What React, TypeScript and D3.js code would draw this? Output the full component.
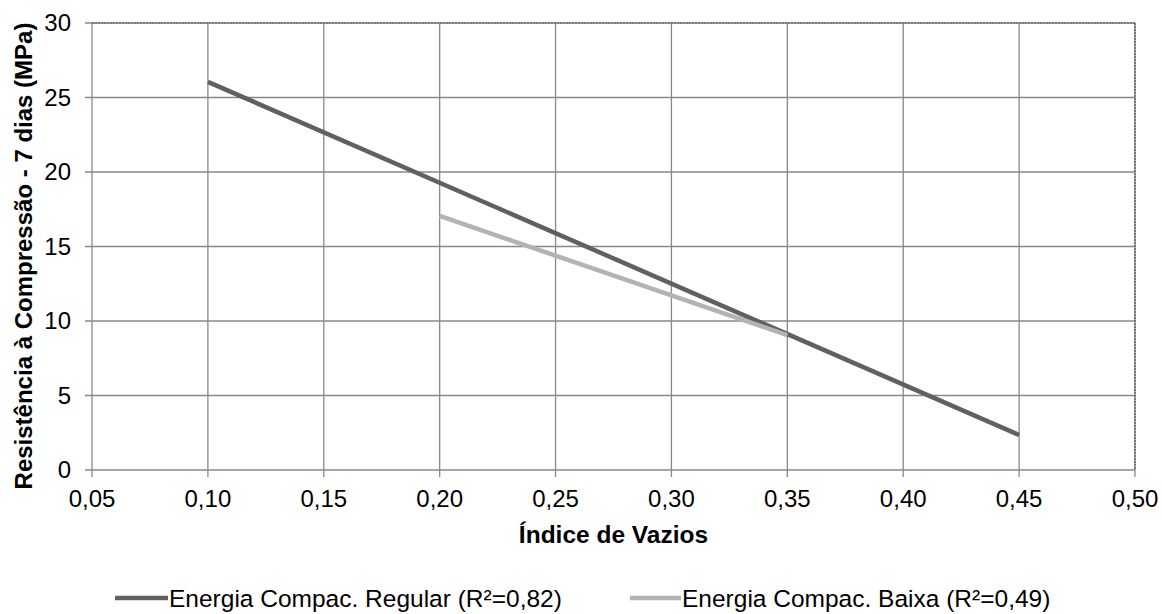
import React from "react";
import * as d3 from "d3";

const xTicks = [0.05, 0.1, 0.15, 0.2, 0.25, 0.3, 0.35, 0.4, 0.45, 0.5];
const yTicks = [0, 5, 10, 15, 20, 25, 30];

const regularX = [0.1, 0.45];
const regularY = [26.05, 2.35];
const baixaX = [0.2, 0.35];
const baixaY = [17.05, 9.06];

const seriesNames = [
  "Energia Compac. Regular (R²=0,82)",
  "Energia Compac. Baixa (R²=0,49)",
];
const seriesColors = ["#606060", "#b3b3b3"];

const W = 1162;
const H = 614;
const left = 92;
const right = 1135;
const top = 23;
const bottom = 470;

export default function App() {
  const x = d3.scaleLinear().domain([0.05, 0.5]).range([left, right]);
  const y = d3.scaleLinear().domain([0, 30]).range([bottom, top]);
  const fmt = (v: number) => v.toFixed(2).replace(".", ",");
  const line = d3
    .line<[number, number]>()
    .x((d) => x(d[0]))
    .y((d) => y(d[1]));
  const series = [
    regularX.map((v, i) => [v, regularY[i]] as [number, number]),
    baixaX.map((v, i) => [v, baixaY[i]] as [number, number]),
  ];
  const font = "'Liberation Sans', Arial, sans-serif";
  const legendItems = [
    { x0: 115, x1: 168 },
    { x0: 630, x1: 681 },
  ];
  const legendY = 598;

  return (
    <svg
      width={W}
      height={H}
      style={{ position: "absolute", left: 0, top: 0, background: "#fff" }}
      fontFamily={font}
    >
      <rect x={0} y={0} width={W} height={H} fill="#fff" />
      {yTicks.map((t) => (
        <line
          key={"gy" + t}
          x1={left - 7}
          x2={right}
          y1={y(t)}
          y2={y(t)}
          stroke="#888"
          strokeWidth={1.3}
        />
      ))}
      {xTicks.map((t) => (
        <line
          key={"gx" + t}
          x1={x(t)}
          x2={x(t)}
          y1={top}
          y2={bottom + 7}
          stroke="#888"
          strokeWidth={1.3}
        />
      ))}
      <line x1={left} x2={right} y1={top} y2={top} stroke="#555" strokeWidth={1.2} strokeDasharray="2 1" />
      <line x1={right} x2={right} y1={top} y2={bottom} stroke="#555" strokeWidth={1.2} strokeDasharray="2 1" />
      {yTicks.map((t) => (
        <text key={"ty" + t} x={left - 21} y={y(t)} dy="0.35em" textAnchor="end" fontSize={24} fill="#000">
          {t}
        </text>
      ))}
      {xTicks.map((t) => (
        <text key={"tx" + t} x={x(t)} y={507} textAnchor="middle" fontSize={24} fill="#000">
          {fmt(t)}
        </text>
      ))}
      {series.map((s, i) => (
        <path key={"s" + i} d={line(s) || ""} fill="none" stroke={seriesColors[i]} strokeWidth={4.5} />
      ))}
      <text x={(left + right) / 2} y={543} textAnchor="middle" fontSize={24.5} fontWeight="bold">
        Índice de Vazios
      </text>
      <text
        transform="translate(24, 256) rotate(-90)"
        textAnchor="middle"
        dy="0.35em"
        fontSize={24}
        fontWeight="bold"
      >
        Resistência à Compressão - 7 dias (MPa)
      </text>
      {legendItems.map((l, i) => (
        <g key={"lg" + i}>
          <line x1={l.x0} x2={l.x1} y1={legendY} y2={legendY} stroke={seriesColors[i]} strokeWidth={4.5} />
          <text x={l.x1 + 1} y={legendY} dy="0.35em" fontSize={24.5}>
            {seriesNames[i]}
          </text>
        </g>
      ))}
    </svg>
  );
}
